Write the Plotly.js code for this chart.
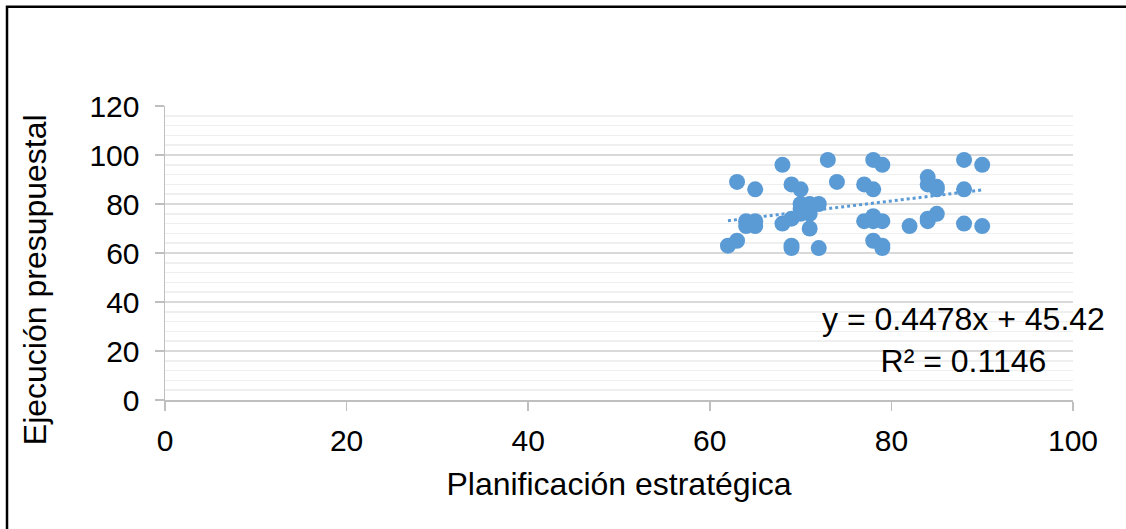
<!DOCTYPE html>
<html>
<head>
<meta charset="utf-8">
<script src="https://cdn.plot.ly/plotly-3.0.1.min.js"></script>
<style>
html,body{margin:0;padding:0;background:#fff;}
#chart{width:1126px;height:529px;}
</style>
</head>
<body>
<div id="chart"></div>
<script>
const planificacion = [62,63,63,64,64,65,65,65,68,68,69,69,69,69,70,70,70,70,71,71,71,72,72,73,74,77,77,78,78,78,78,78,79,79,79,79,82,84,84,84,84,85,85,85,88,88,88,90,90];
const ejecucion     = [63,65,89,73,71,86,73,71,96,72,88,74,63,62,86,80,78,76,80,76,70,80,62,98,89,88,73,98,86,75,73,65,96,73,63,62,71,91,88,74,73,87,86,76,98,86,72,96,71];
const slope = 0.4478;
const intercept = 45.42;
const r2 = 0.1146;
const xTicks = [0,20,40,60,80,100];
const yTicks = [0,20,40,60,80,100,120];
const xTitle = 'Planificación estratégica';
const yTitle = 'Ejecución presupuestal';

const xMin = Math.min(...planificacion), xMax = Math.max(...planificacion);
const trendX = [xMin, xMax];
const trendY = trendX.map(v => slope*v + intercept);

const blue = '#5B9BD5';
const font = 'Liberation Sans, Arial, sans-serif';

const data = [
  {x: planificacion, y: ejecucion, type:'scatter', mode:'markers',
   marker:{color:blue, size:16}, hoverinfo:'x+y'},
  {x: trendX, y: trendY, type:'scatter', mode:'lines',
   line:{color:blue, width:3, dash:'dot'}, hoverinfo:'skip'}
];

const layout = {
  width:1126, height:529,
  margin:{l:165, r:53, t:106, b:129},
  paper_bgcolor:'#fff', plot_bgcolor:'#fff',
  showlegend:false,
  font:{family:font, color:'#000', size:30},
  xaxis:{range:[0,100], tickvals:xTicks, showgrid:false, zeroline:false,
    showline:true, linecolor:'#bfbfbf', linewidth:1.5,
    ticks:'outside', ticklen:9, tickcolor:'#bfbfbf', tickwidth:1.5,
    ticklabelstandoff:4,
    tickfont:{family:font, size:30, color:'#000'},
    title:{text:xTitle, font:{family:font, size:32, color:'#000'}, standoff:17}},
  yaxis:{range:[0,120], tickvals:yTicks, showgrid:true, gridcolor:'#d9d9d9', gridwidth:1.5,
    zeroline:false, showline:true, linecolor:'#bfbfbf', linewidth:1.5,
    ticks:'outside', ticklen:9, tickcolor:'#bfbfbf', tickwidth:1.5,
    ticklabelstandoff:9,
    minor:{dtick:4, showgrid:true, gridcolor:'#efefef', gridwidth:1.5, ticks:''},
    tickfont:{family:font, size:30, color:'#000'}},
  annotations:[{
    x:87.9, y:24.5, xref:'x', yref:'y', showarrow:false, align:'center',
    text:'y = '+slope.toFixed(4)+'x + '+intercept.toFixed(2)+'<br>R² = '+r2.toFixed(4),
    font:{family:font, size:32, color:'#000'}
  },{
    x:-0.143, y:0.408, xref:'paper', yref:'paper', showarrow:false, textangle:-90,
    xanchor:'center', yanchor:'middle',
    text:yTitle, font:{family:font, size:32, color:'#000'}
  }],
  shapes:[{type:'path', xref:'paper', yref:'paper',
    path:'M -0.174,-0.46 L -0.174,1.338 L 1.07,1.338',
    line:{color:'#000', width:2.5}}]
};
Plotly.newPlot('chart', data, layout, {displayModeBar:false, staticPlot:true});
</script>
</body>
</html>
